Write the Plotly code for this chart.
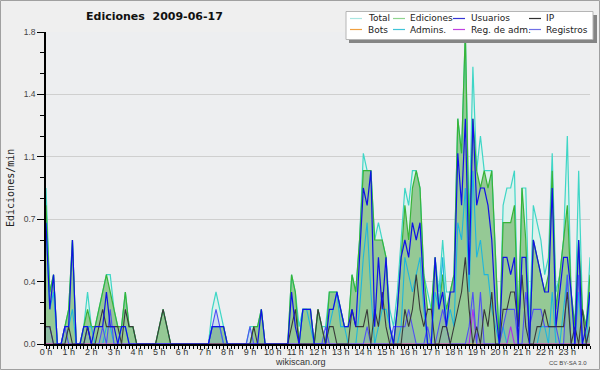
import plotly.graph_objects as go

# ---------------- data (edits per minute, 10-minute steps, 0h .. 24h) ----------------
total = [
    0.9, 0.3, 0.4, 0, 0, 0.1, 0.2, 0.6, 0, 0, 0.1, 0.3,
    0.1, 0.1, 0.2, 0.3, 0.4, 0.4, 0.2, 0.1, 0.1, 0.3, 0.1, 0.1,
    0, 0, 0, 0, 0, 0, 0.1, 0.2, 0.1, 0, 0, 0,
    0, 0, 0, 0, 0, 0, 0, 0, 0.2, 0.3, 0.2, 0.1,
    0, 0, 0, 0, 0, 0, 0.1, 0.1, 0.1, 0.2, 0, 0,
    0, 0, 0, 0, 0, 0.4, 0.3, 0.1, 0.2, 0.2, 0.2, 0,
    0.2, 0.1, 0.1, 0.3, 0.3, 0.3, 0.2, 0.1, 0.1, 0.4, 0.3, 0.6,
    1.1, 1.0, 1.0, 0.6, 0.7, 0.6, 0.5, 0.2, 0.1, 0.3, 0.6, 0.9,
    0.8, 1.0, 1.0, 0.9, 0.4, 0.3, 0.2, 0.5, 0.3, 0.6, 0.3, 0.3,
    0.4, 1.3, 1.1, 1.8, 0.7, 1.6, 1.0, 1.2, 1.0, 1.0, 1.0, 0.5,
    0, 0.8, 0.9, 0.9, 1.0, 0.1, 0.9, 0.9, 0.1, 0.8, 0.7, 0.6,
    0.4, 0.5, 1.1, 0.3, 0.4, 0.6, 1.2, 0.3, 0.1, 1.0, 0.2, 0.1,
    0.5]

ediciones = [
    0.8, 0.3, 0.4, 0, 0, 0.1, 0.2, 0.6, 0, 0, 0.1, 0.2,
    0.1, 0.1, 0.2, 0.3, 0.4, 0.3, 0.2, 0.1, 0.1, 0.3, 0.1, 0.1,
    0, 0, 0, 0, 0, 0, 0.1, 0.2, 0.1, 0, 0, 0,
    0, 0, 0, 0, 0, 0, 0, 0, 0.1, 0.1, 0.1, 0.1,
    0, 0, 0, 0, 0, 0, 0, 0.1, 0.1, 0.2, 0, 0,
    0, 0, 0, 0, 0, 0.4, 0.3, 0, 0.2, 0.2, 0.2, 0,
    0.2, 0.1, 0, 0.3, 0.3, 0.3, 0.2, 0.1, 0.1, 0.4, 0.3, 0.6,
    1.0, 1.0, 1.0, 0.6, 0.6, 0.6, 0.5, 0.1, 0, 0.2, 0.5, 0.8,
    0.6, 0.9, 1.0, 0.9, 0.4, 0.2, 0.2, 0.5, 0.2, 0.4, 0.2, 0.3,
    0.4, 1.3, 1.1, 1.8, 0.6, 1.3, 1.0, 0.9, 1.0, 0.9, 1.0, 0.5,
    0, 0.7, 0.7, 0.7, 0.8, 0.1, 0.9, 0.6, 0, 0.6, 0.5, 0.4,
    0.3, 0.4, 1.0, 0.2, 0.4, 0.6, 0.8, 0.3, 0.1, 0.6, 0.2, 0.1,
    0.4]

usuarios = [
    0.7, 0.2, 0.4, 0, 0, 0.1, 0.1, 0.6, 0, 0, 0.1, 0.1,
    0, 0.1, 0.1, 0.1, 0.3, 0.1, 0.1, 0, 0.1, 0.1, 0, 0,
    0, 0, 0, 0, 0, 0, 0, 0, 0, 0, 0, 0,
    0, 0, 0, 0, 0, 0, 0, 0, 0.1, 0.1, 0.1, 0.1,
    0, 0, 0, 0, 0, 0, 0, 0, 0, 0.2, 0, 0,
    0, 0, 0, 0, 0, 0.3, 0.1, 0, 0.2, 0.2, 0.2, 0,
    0, 0, 0, 0.2, 0.2, 0.3, 0.2, 0.1, 0.1, 0.2, 0.1, 0.5,
    0.9, 0.8, 1.0, 0.1, 0.5, 0.2, 0.5, 0.1, 0, 0.2, 0.5, 0.6,
    0.5, 0.7, 0.6, 0.7, 0.3, 0, 0, 0.5, 0.2, 0.3, 0.1, 0.3,
    0.3, 1.1, 0.8, 1.3, 0.4, 1.3, 0.8, 0.9, 0.9, 0.8, 0.6, 0.2,
    0, 0.5, 0.5, 0.4, 0.5, 0, 0.5, 0.5, 0, 0.6, 0.5, 0.4,
    0.3, 0.3, 0.9, 0.1, 0.3, 0.5, 0.5, 0.3, 0, 0.6, 0, 0.1,
    0.3]

ip = [
    0.1, 0.1, 0, 0, 0, 0, 0.1, 0, 0, 0, 0, 0.1,
    0, 0, 0.1, 0.2, 0.1, 0.1, 0.1, 0.1, 0, 0.2, 0.1, 0.1,
    0, 0, 0, 0, 0, 0, 0.1, 0.2, 0.1, 0, 0, 0,
    0, 0, 0, 0, 0, 0, 0, 0, 0, 0, 0, 0,
    0, 0, 0, 0, 0, 0, 0, 0.1, 0, 0, 0, 0,
    0, 0, 0, 0, 0, 0.1, 0.2, 0, 0, 0, 0, 0,
    0.2, 0.1, 0, 0.1, 0.1, 0, 0, 0, 0, 0.2, 0.1, 0.1,
    0.1, 0.2, 0, 0.2, 0.1, 0.3, 0.1, 0, 0, 0, 0, 0.2,
    0.1, 0.2, 0.4, 0.2, 0.1, 0.2, 0.2, 0, 0, 0.1, 0.1, 0,
    0.1, 0.2, 0.3, 0.5, 0.2, 0, 0.1, 0, 0.2, 0.1, 0.3, 0,
    0, 0.2, 0.2, 0.3, 0.3, 0.1, 0.4, 0.1, 0, 0, 0.1, 0.1,
    0.2, 0.1, 0.1, 0.1, 0.1, 0.1, 0.3, 0, 0.1, 0, 0.2, 0,
    0.1]

bots = [
    0, 0, 0, 0, 0, 0, 0, 0, 0, 0, 0, 0,
    0, 0, 0, 0, 0, 0, 0, 0, 0, 0, 0, 0,
    0, 0, 0, 0, 0, 0, 0, 0, 0, 0, 0, 0,
    0, 0, 0, 0, 0, 0, 0, 0, 0, 0, 0, 0,
    0, 0, 0, 0, 0, 0, 0, 0, 0, 0, 0, 0,
    0, 0, 0, 0, 0, 0, 0, 0, 0, 0, 0, 0,
    0, 0, 0, 0, 0, 0, 0, 0, 0, 0, 0, 0,
    0, 0, 0, 0, 0, 0, 0, 0, 0, 0, 0, 0,
    0, 0, 0, 0, 0, 0, 0, 0, 0, 0, 0, 0,
    0, 0, 0, 0, 0, 0, 0, 0, 0, 0, 0, 0,
    0, 0, 0, 0, 0, 0, 0, 0, 0, 0, 0, 0,
    0, 0, 0, 0, 0, 0, 0, 0, 0, 0, 0, 0,
    0]

admins = [
    0.7, 0.2, 0.3, 0, 0, 0, 0.1, 0.2, 0, 0, 0, 0.1,
    0.1, 0, 0, 0, 0.1, 0.1, 0, 0, 0.1, 0.1, 0, 0,
    0, 0, 0, 0, 0, 0, 0, 0, 0, 0, 0, 0,
    0, 0, 0, 0, 0, 0, 0, 0, 0.1, 0.1, 0.1, 0,
    0, 0, 0, 0, 0, 0, 0, 0, 0, 0, 0, 0,
    0, 0, 0, 0, 0, 0, 0, 0, 0.2, 0.2, 0.1, 0,
    0, 0, 0, 0.1, 0.2, 0.3, 0.1, 0.1, 0, 0, 0, 0.2,
    0.5, 0.7, 0.3, 0, 0.1, 0.2, 0.2, 0.1, 0, 0, 0.1, 0.5,
    0.4, 0.3, 0.4, 0.5, 0.2, 0, 0, 0.3, 0.2, 0.5, 0.1, 0.2,
    0.1, 0.7, 0.6, 0.9, 0.3, 1.0, 0.5, 0.6, 0.4, 0.4, 0.2, 0.1,
    0, 0.1, 0, 0, 0, 0, 0, 0, 0, 0, 0, 0.1,
    0.1, 0, 0.3, 0, 0, 0.2, 0.4, 0, 0, 0.3, 0, 0,
    0.3]

reg_adm = [
    0, 0, 0, 0, 0, 0, 0, 0, 0, 0, 0, 0,
    0, 0, 0, 0, 0, 0, 0, 0, 0, 0, 0, 0,
    0, 0, 0, 0, 0, 0, 0, 0, 0, 0, 0, 0,
    0, 0, 0, 0, 0, 0, 0, 0, 0, 0, 0, 0,
    0, 0, 0, 0, 0, 0, 0, 0, 0, 0, 0, 0,
    0, 0, 0, 0, 0, 0, 0, 0, 0, 0, 0, 0,
    0, 0, 0, 0, 0, 0, 0, 0, 0, 0, 0, 0,
    0, 0, 0, 0, 0, 0, 0, 0, 0, 0, 0, 0,
    0, 0, 0, 0, 0, 0, 0, 0, 0, 0, 0, 0,
    0, 0, 0, 0, 0, 0.2, 0, 0, 0, 0, 0, 0,
    0, 0, 0, 0.1, 0, 0, 0, 0, 0, 0, 0, 0,
    0, 0, 0, 0, 0, 0, 0, 0, 0, 0, 0, 0,
    0]

registros = [
    0.1, 0.1, 0, 0, 0, 0.1, 0, 0, 0, 0, 0, 0.1,
    0, 0, 0, 0.1, 0, 0.2, 0, 0, 0, 0, 0, 0,
    0, 0, 0, 0, 0, 0, 0, 0, 0, 0, 0, 0,
    0, 0, 0, 0, 0, 0, 0, 0, 0.1, 0.2, 0.1, 0,
    0, 0, 0, 0, 0, 0, 0.1, 0, 0, 0, 0, 0,
    0, 0, 0, 0, 0, 0, 0, 0, 0, 0, 0, 0,
    0, 0, 0.1, 0, 0, 0, 0, 0, 0, 0, 0, 0,
    0, 0.1, 0, 0, 0, 0, 0, 0, 0.1, 0.1, 0.1, 0.1,
    0.2, 0.1, 0, 0, 0, 0.1, 0, 0, 0.1, 0.2, 0.1, 0,
    0, 0, 0, 0, 0.1, 0.3, 0, 0.3, 0, 0, 0, 0,
    0, 0.1, 0.2, 0.2, 0.2, 0, 0, 0.3, 0.1, 0.2, 0.2, 0.2,
    0.1, 0.1, 0.1, 0.1, 0, 0, 0.4, 0, 0, 0.4, 0, 0,
    0.1]

hours = [i / 6 for i in range(len(total))]  # time of each 10-minute sample, in hours
hour_ticks = list(range(24))
hour_labels = [f"{h} h" for h in hour_ticks]

legend_rows = [
    [("Total", "#a9e6e2"), ("Ediciones", "#8fd48f"), ("Usuarios", "#3535d5"), ("IP", "#303030")],
    [("Bots", "#f0a040"), ("Admins.", "#40c4d8"), ("Reg. de adm.", "#c040e0"), ("Registros", "#7070e6")],
]

title_text = "Ediciones\u00a0\u00a02009-06-17"
y_title = "Ediciones/min"

# ---------------- geometry helpers (pixel -> paper) ----------------
W, H = 600, 370
L, R, T, B = 46, 10, 32, 26
PW, PH = W - L - R, H - T - B


def px(x):
    return (x - L) / PW


def py(y):
    return (T + PH - y) / PH


fig = go.Figure()

# filled areas
fig.add_trace(go.Scatter(x=hours, y=total, mode="lines", line=dict(width=0, color="#3fd6c6"),
                         fill="tozeroy", fillcolor="#dcf2ed", hoverinfo="skip", showlegend=False))
fig.add_trace(go.Scatter(x=hours, y=ediciones, mode="lines", line=dict(width=0, color="#3cb43c"),
                         fill="tozeroy", fillcolor="#95c995", hoverinfo="skip", showlegend=False))
fig.add_trace(go.Scatter(x=hours, y=registros, mode="lines", line=dict(width=0, color="#5a5aff"),
                         fill="tozeroy", fillcolor="rgba(90,90,255,0.13)", hoverinfo="skip", showlegend=False))

# lines
series = [
    (total, "#3fd6c6", 1.2),
    (ediciones, "#38b438", 1.2),
    (admins, "#1fb6dc", 1.1),
    (bots, "#f0a040", 1.1),
    (reg_adm, "#b030e8", 1.1),
    (registros, "#5050f5", 1.1),
    (ip, "#3a3a3a", 1.1),
    (usuarios, "#1010e8", 1.2),
]
for vals, col, w in series:
    fig.add_trace(go.Scatter(x=hours, y=vals, mode="lines", line=dict(color=col, width=w),
                             hoverinfo="skip", showlegend=False))

shapes = []
annotations = []

# outer border
shapes.append(dict(type="rect", xref="paper", yref="paper",
                   x0=px(0.5), x1=px(W - 0.5), y0=py(H - 0.5), y1=py(0.5),
                   line=dict(color="#a0a0a0", width=1), fillcolor="rgba(0,0,0,0)", layer="above"))

# legend box with shadow
shapes.append(dict(type="rect", xref="paper", yref="paper",
                   x0=px(349), x1=px(597), y0=py(43), y1=py(15),
                   line=dict(width=0), fillcolor="#858585", layer="above"))
shapes.append(dict(type="rect", xref="paper", yref="paper",
                   x0=px(346), x1=px(593), y0=py(39.5), y1=py(11.5),
                   line=dict(color="#b5b5b5", width=1), fillcolor="#ffffff", layer="above"))

col_x = [(350, 362, 366), (393, 405, 408), (453, 465, 469), (529, 541, 544)]
row_y = [18.5, 29.5]
for r, row in enumerate(legend_rows):
    for c, (name, colr) in enumerate(row):
        x0, x1, xt = col_x[c]
        shapes.append(dict(type="line", xref="paper", yref="paper",
                           x0=px(x0), x1=px(x1), y0=py(row_y[r]), y1=py(row_y[r]),
                           line=dict(color=colr, width=1.2), layer="above"))
        annotations.append(dict(x=px(xt), y=py(row_y[r]), xref="paper", yref="paper",
                                text=name, showarrow=False, xanchor="left", yanchor="middle",
                                font=dict(family="DejaVu Sans", size=9, color="#222222")))

# title
annotations.append(dict(x=px(154), y=py(16.5), xref="paper", yref="paper",
                        text="<b>" + title_text + "</b>", showarrow=False,
                        xanchor="center", yanchor="middle",
                        font=dict(family="DejaVu Sans", size=11, color="#111111")))
# y-axis title
annotations.append(dict(x=px(10), y=py(188), xref="paper", yref="paper",
                        text=y_title, textangle=-90, showarrow=False,
                        xanchor="center", yanchor="middle",
                        font=dict(family="DejaVu Sans Mono", size=10, color="#222222")))
# footer
annotations.append(dict(x=px(300.5), y=py(362), xref="paper", yref="paper",
                        text="wikiscan.org", showarrow=False, xanchor="center", yanchor="middle",
                        font=dict(family="Liberation Sans", size=9, color="#333333")))
annotations.append(dict(x=px(589), y=py(363), xref="paper", yref="paper",
                        text="CC BY-SA 3.0", showarrow=False, xanchor="right", yanchor="middle",
                        font=dict(family="Liberation Sans", size=6, color="#444444")))

fig.update_layout(
    width=W, height=H,
    margin=dict(l=L, r=R, t=T, b=B, pad=0),
    paper_bgcolor="#efefef",
    plot_bgcolor="#edeef0",
    showlegend=False,
    shapes=shapes,
    annotations=annotations,
    xaxis=dict(
        range=[0, 24], tickmode="array", tickvals=hour_ticks, ticktext=hour_labels,
        ticks="outside", ticklen=3, tickwidth=1, tickcolor="#000000",
        ticklabelstandoff=-5,
        showline=True, linecolor="#000000", linewidth=1.5,
        showgrid=False, zeroline=False,
        minor=dict(tickmode="linear", tick0=0, dtick=1 / 6, ticks="outside", ticklen=3,
                   tickwidth=1, tickcolor="#000000", showgrid=False),
        tickfont=dict(family="Liberation Sans", size=9, color="#333333"),
    ),
    yaxis=dict(
        range=[0, 1.8], tickmode="linear", tick0=0, dtick=0.36, tickformat=".1f",
        ticks="outside", ticklen=7, tickwidth=1, tickcolor="#000000",
        showline=True, linecolor="#000000", linewidth=1.5,
        showgrid=True, gridcolor="#cfcfcf", gridwidth=1, zeroline=False,
        minor=dict(dtick=0.12, ticks="outside", ticklen=4, tickwidth=1, tickcolor="#000000", showgrid=False),
        tickfont=dict(family="Liberation Sans", size=8.5, color="#444444"),
    ),
)

fig.write_html("out.html", config={"displayModeBar": False},
               post_script="document.body.style.margin='0';document.body.style.overflow='hidden';")
